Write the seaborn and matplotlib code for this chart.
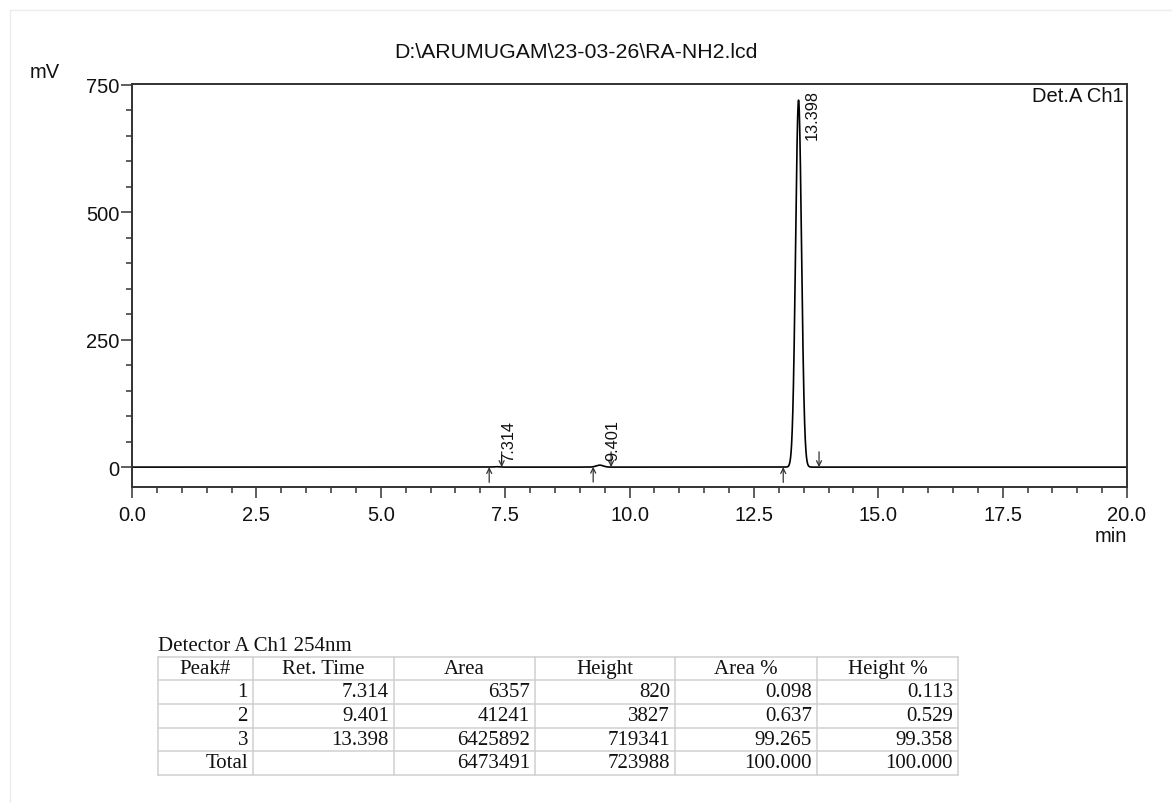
import numpy as np
import pandas as pd
import matplotlib
matplotlib.use("Agg")
import matplotlib.pyplot as plt
from matplotlib.ticker import MultipleLocator, FormatStrFormatter
import seaborn as sns

# ---- peak table, Detector A Ch1 254nm ----
peak_no = ["1", "2", "3"]
ret_time = [7.314, 9.401, 13.398]        # min
peak_area = [6357, 41241, 6425892]       # uV*s
peak_height = [820, 3827, 719341]        # uV
area_pct = [0.098, 0.637, 99.265]
height_pct = [0.113, 0.529, 99.358]
total_area = 6473491
total_height = 723988

# integration start / end marks (min)
peak_start = [7.18, 9.27, 13.09]
peak_end = [7.43, 9.63, 13.81]

table_header = ["Peak#", "Ret. Time", "Area", "Height", "Area %", "Height %"]
file_title = "D:\\ARUMUGAM\\23-03-26\\RA-NH2.lcd"
detector_label = "Det.A Ch1"
table_title = "Detector A Ch1 254nm"

# ---- detector trace built from the peak table (Gaussian peaks) ----
t = np.linspace(0.0, 20.0, 8001)
signal = np.zeros_like(t)
for rt, a, h in zip(ret_time, peak_area, peak_height):
    sigma_min = a / (h * np.sqrt(2 * np.pi)) / 60.0
    signal += (h / 1000.0) * np.exp(-0.5 * ((t - rt) / sigma_min) ** 2)
trace = pd.DataFrame({"time": t, "mV": signal})

sns.set_theme(style="white")
plt.rcParams["font.family"] = ["Liberation Sans", "DejaVu Sans"]

W, H = 1172, 804
fig = plt.figure(figsize=(W / 100, H / 100), dpi=100)
fig.patch.set_facecolor("white")

ax = fig.add_axes([132 / W, 1 - 488 / H, (1127 - 132) / W, (488 - 84.5) / H])
sns.lineplot(data=trace, x="time", y="mV", ax=ax, color="black",
             linewidth=1.2, estimator=None, sort=False)

ax.set_xlim(0, 20)
ax.set_ylim(-39, 752)
ax.set_xlabel("")
ax.set_ylabel("")
ax.xaxis.set_major_locator(MultipleLocator(2.5))
ax.xaxis.set_minor_locator(MultipleLocator(0.5))
ax.xaxis.set_major_formatter(FormatStrFormatter("%.1f"))
ax.yaxis.set_major_locator(MultipleLocator(250))
ax.yaxis.set_minor_locator(MultipleLocator(50))
ax.yaxis.set_major_formatter(FormatStrFormatter("%d"))

frame_col = "#333333"
for sp in ax.spines.values():
    sp.set_color(frame_col)
    sp.set_linewidth(1.4)
    sp.set_visible(True)
ax.tick_params(axis="both", which="both", direction="out", color=frame_col,
               width=1.1, labelsize=14.5, labelcolor="#111111")
ax.tick_params(axis="x", which="major", length=8, pad=5)
ax.tick_params(axis="x", which="minor", length=4.5)
ax.tick_params(axis="y", which="major", length=8, pad=1)
ax.tick_params(axis="y", which="minor", length=4.5)
ax.tick_params(bottom=True, left=True, top=False, right=False)
ax.tick_params(axis="x", which="minor", bottom=True)
ax.tick_params(axis="y", which="minor", left=True)

# integration marks: up arrow at peak start, down arrow at peak end
arrow_kw = dict(arrowstyle="->", lw=0.9, color="#333333",
                shrinkA=0, shrinkB=0, mutation_scale=9)
for s in peak_start:
    yb = np.interp(s, t, signal)
    ax.annotate("", xy=(s, yb), xytext=(0, -11), textcoords="offset points",
                arrowprops=arrow_kw)
for e in peak_end:
    yb = np.interp(e, t, signal)
    ax.annotate("", xy=(e, yb), xytext=(0, 11), textcoords="offset points",
                arrowprops=arrow_kw)

# retention time labels
ymax = ax.get_ylim()[1]
for rt, h in zip(ret_time, peak_height):
    hm = h / 1000.0
    if hm + 100 < ymax:
        ax.annotate(f"{rt:.3f}", xy=(rt, hm), xytext=(9.5, 4),
                    textcoords="offset points", rotation=90,
                    ha="center", va="bottom", fontsize=11.8, color="#111111")
    else:
        ax.annotate(f"{rt:.3f}", xy=(rt, ymax), xytext=(10, -4),
                    textcoords="offset points", rotation=90,
                    ha="center", va="top", fontsize=11.8, color="#111111")

ax.text(1 - 3 / 995, 1 - 2 / 403, detector_label, transform=ax.transAxes,
        ha="right", va="top", fontsize=14.5, color="#111111")

fig.text(576 / W, 1 - 53 / H, file_title, ha="center", va="center",
         fontsize=15.3, color="#111111")
fig.text(30 / W, 1 - 73 / H, "mV", ha="left", va="center",
         fontsize=14.5, color="#111111")
fig.text(1127 / W, 1 - 527 / H, "min", ha="right", va="top",
         fontsize=14.5, color="#111111")

# ---- overlay in pixel coordinates for the page frame and the peak table ----
ov = fig.add_axes([0, 0, 1, 1], zorder=-1)
ov.set_xlim(0, W)
ov.set_ylim(H, 0)
ov.axis("off")
ov.patch.set_visible(False)

ov.plot([10, 10], [11, H], color="#ececec", lw=1.0)
ov.plot([10, W], [11, 11], color="#ececec", lw=1.0)

serif = ["Liberation Serif", "DejaVu Serif"]
col_edges = [158, 253, 394, 535, 675, 817, 958]
row_edges = [658, 681, 705, 729, 752, 776]
grid_col = "#cfcfcf"
tfs = 15

ov.text(158, 647, table_title, ha="left", va="center", fontsize=tfs,
        family=serif, color="#111111")
for x in col_edges:
    ov.plot([x, x], [row_edges[0], row_edges[-1]], color=grid_col, lw=1.1)
for y in row_edges:
    ov.plot([col_edges[0], col_edges[-1]], [y, y], color=grid_col, lw=1.1)

def fmt_rows():
    rows = []
    for i in range(len(peak_no)):
        rows.append([peak_no[i], f"{ret_time[i]:.3f}", f"{peak_area[i]}",
                     f"{peak_height[i]}", f"{area_pct[i]:.3f}",
                     f"{height_pct[i]:.3f}"])
    rows.append(["Total", "", f"{total_area}", f"{total_height}",
                 f"{sum(area_pct):.3f}", f"{sum(height_pct):.3f}"])
    return rows

for j, head in enumerate(table_header):
    xc = (col_edges[j] + col_edges[j + 1]) / 2
    yc = (row_edges[0] + row_edges[1]) / 2
    ov.text(xc, yc, head, ha="center", va="center", fontsize=tfs,
            family=serif, color="#111111")

for i, row in enumerate(fmt_rows()):
    yc = (row_edges[i + 1] + row_edges[i + 2]) / 2
    for j, val in enumerate(row):
        ov.text(col_edges[j + 1] - 5, yc, val, ha="right", va="center",
                fontsize=tfs, family=serif, color="#111111")

fig.savefig("out.png", dpi=100, facecolor="white")
